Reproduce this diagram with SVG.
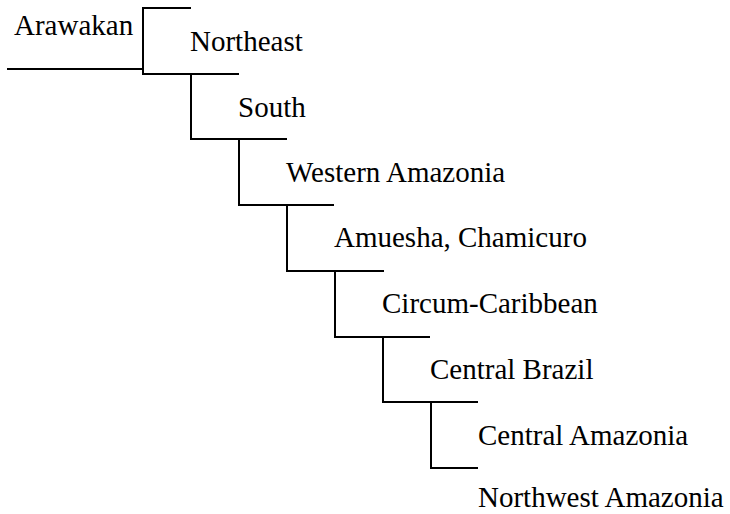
<svg xmlns="http://www.w3.org/2000/svg" width="730" height="514" viewBox="0 0 730 514">
<style>
  .lbl { font-family: "Liberation Serif", "Times New Roman", serif; font-size: 29px; fill: #000; }
  .ln { fill: none; stroke: #000; stroke-width: 2; stroke-linecap: square; }
</style>
<rect width="730" height="514" fill="#fff"/>
<g id="connectors">
  <path class="ln" d="M8,69 H143"/>
  <path class="ln" d="M190,8 H143 V74 H238"/>
  <path class="ln" d="M191,74 V139 H286"/>
  <path class="ln" d="M239,139 V205 H333"/>
  <path class="ln" d="M287,205 V271 H383"/>
  <path class="ln" d="M335,271 V337 H429"/>
  <path class="ln" d="M383,337 V402 H477"/>
  <path class="ln" d="M431,402 V468 H477"/>
</g>
<g id="arawakan"><text class="lbl" x="14" y="35">Arawakan</text></g>
<g id="northeast"><text class="lbl" x="190" y="51">Northeast</text></g>
<g id="south"><text class="lbl" x="238" y="117">South</text></g>
<g id="western-amazonia"><text class="lbl" x="286" y="182">Western Amazonia</text></g>
<g id="amuesha-chamicuro"><text class="lbl" x="334" y="247">Amuesha, Chamicuro</text></g>
<g id="circum-caribbean"><text class="lbl" x="382" y="313">Circum-Caribbean</text></g>
<g id="central-brazil"><text class="lbl" x="430" y="379">Central Brazil</text></g>
<g id="central-amazonia"><text class="lbl" x="478" y="445">Central Amazonia</text></g>
<g id="northwest-amazonia"><text class="lbl" x="478" y="507">Northwest Amazonia</text></g>
</svg>
